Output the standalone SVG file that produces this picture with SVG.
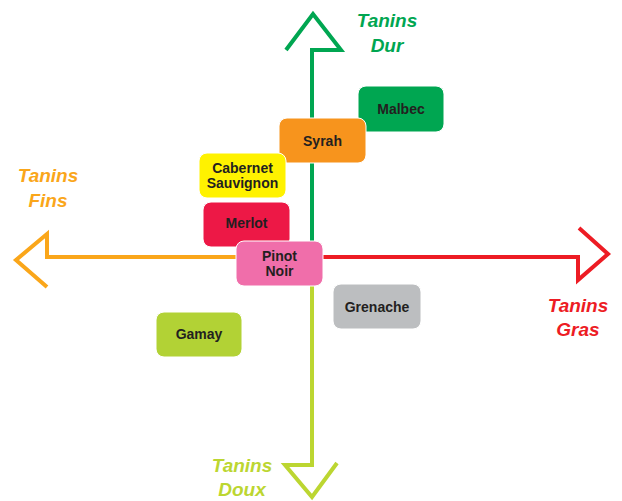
<svg xmlns="http://www.w3.org/2000/svg" width="622" height="501" viewBox="0 0 622 501">
<style>
.ax{fill:none;stroke-width:4;stroke-linejoin:miter;stroke-linecap:butt}
.box rect{stroke:#fff;stroke-width:1}
.box text{font-family:"Liberation Sans",Arial,sans-serif;font-weight:bold;font-size:14px;fill:#231F20;text-anchor:middle}
.lbl{font-family:"Liberation Sans",Arial,sans-serif;font-weight:bold;font-style:italic;font-size:19px;text-anchor:middle}
</style>
<rect width="622" height="501" fill="#fff"/>
<g id="connectors">
<polyline class="ax" stroke="#00A651" points="312,257 312,50 341,50 313,14 286,50"/>
<polyline class="ax" stroke="#FAA61A" points="313,257 47,257 47,234 16,260 47,287"/>
<polyline class="ax" stroke="#ED1C24" points="313,257 578,257 578,280 608,254 579,228"/>
<polyline class="ax" stroke="#BCD631" points="312,257 312,465 285,465 312,497 337,463"/>
</g>
<g id="axis-labels">
<text class="lbl" fill="#00A651" x="387" y="27">Tanins</text>
<text class="lbl" fill="#00A651" x="387" y="52">Dur</text>
<text class="lbl" fill="#FAA61A" x="48" y="182">Tanins</text>
<text class="lbl" fill="#FAA61A" x="48" y="207">Fins</text>
<text class="lbl" fill="#ED1C24" x="578" y="312">Tanins</text>
<text class="lbl" fill="#ED1C24" x="578" y="336">Gras</text>
<text class="lbl" fill="#BCD631" x="242" y="472">Tanins</text>
<text class="lbl" fill="#BCD631" x="242" y="496">Doux</text>
</g>
<g id="malbec" class="box"><rect x="358" y="86" width="86" height="46" rx="8" fill="#00A651"/><text x="401" y="114">Malbec</text></g>
<g id="syrah" class="box"><rect x="279" y="118" width="87" height="45" rx="8" fill="#F7941D"/><text x="322.5" y="146">Syrah</text></g>
<g id="cabernet" class="box"><rect x="199" y="153" width="87" height="45" rx="8" fill="#FFF200"/><text x="242.5" y="173">Cabernet</text><text x="242.5" y="188">Sauvignon</text></g>
<g id="merlot" class="box"><rect x="203" y="202" width="87" height="45" rx="8" fill="#ED1846"/><text x="246.5" y="228">Merlot</text></g>
<g id="pinot-noir" class="box"><rect x="236" y="241" width="87" height="45" rx="8" fill="#F06EAA"/><text x="279.5" y="261">Pinot</text><text x="279.5" y="276">Noir</text></g>
<g id="grenache" class="box"><rect x="333" y="284" width="88" height="45" rx="8" fill="#BCBEC0"/><text x="377" y="312">Grenache</text></g>
<g id="gamay" class="box"><rect x="156" y="312" width="86" height="45" rx="8" fill="#B2D235"/><text x="199" y="339">Gamay</text></g>
</svg>
